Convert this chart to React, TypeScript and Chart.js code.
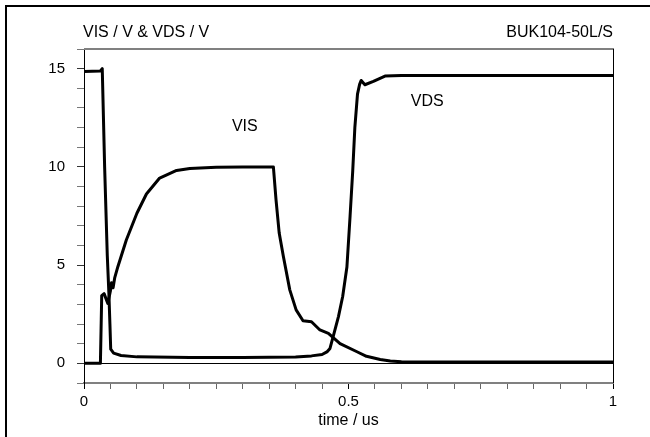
import React, { useEffect, useRef } from "react";
import { Chart, registerables } from "chart.js";

Chart.register(...registerables);

const visTime = [0, 0.031, 0.0335, 0.038, 0.045, 0.05, 0.052, 0.055, 0.058, 0.064, 0.08, 0.1, 0.118, 0.143, 0.175, 0.2, 0.25, 0.3, 0.358, 0.363, 0.369, 0.377, 0.389, 0.401, 0.414, 0.43, 0.446, 0.462, 0.484, 0.516, 0.534, 0.56, 0.579, 0.6, 1];
const visVolts = [0, 0, 3.45, 3.55, 3.05, 3.7, 4.1, 3.85, 4.35, 4.92, 6.28, 7.64, 8.62, 9.43, 9.82, 9.92, 9.98, 10.0, 10.0, 8.32, 6.63, 5.43, 3.74, 2.72, 2.17, 2.12, 1.7, 1.53, 1.0, 0.59, 0.36, 0.2, 0.12, 0.08, 0.07];

const vdsTime = [0, 0.031, 0.0345, 0.039, 0.044, 0.047, 0.049, 0.0505, 0.056, 0.07, 0.1, 0.2, 0.3, 0.4, 0.43, 0.45, 0.46, 0.465, 0.471, 0.481, 0.489, 0.497, 0.503, 0.508, 0.512, 0.517, 0.521, 0.524, 0.531, 0.547, 0.569, 0.6, 1];
const vdsVolts = [14.85, 14.88, 15.0, 10.0, 5.5, 3.6, 2.0, 0.72, 0.52, 0.4, 0.33, 0.3, 0.3, 0.32, 0.38, 0.45, 0.6, 0.76, 1.36, 2.38, 3.4, 4.9, 7.5, 9.8, 12.0, 13.7, 14.2, 14.4, 14.18, 14.35, 14.62, 14.65, 14.65];

const xLabels = [0, 0.5, 1];
const yLabels = [0, 5, 10, 15];

const yTitle = "VIS / V & VDS / V";
const deviceName = "BUK104-50L/S";
const xTitle = "time / us";
const visName = "VIS";
const vdsName = "VDS";

const FONT = "'Liberation Sans', Arial, sans-serif";

const near = (v: number, arr: number[]) => arr.some((a) => Math.abs(a - v) < 1e-6);

const decorPlugin = {
  id: "decor",
  afterDraw(chart: any) {
    const { ctx, chartArea } = chart;
    const xs = chart.scales.x;
    const ys = chart.scales.y;
    ctx.save();
    // outer frame (top & left)
    ctx.fillStyle = "#000";
    ctx.fillRect(5, 5, 645, 2);
    ctx.fillRect(5, 5, 2, 432);
    // top gray border
    ctx.fillStyle = "#808080";
    ctx.fillRect(chartArea.left, chartArea.top - 1, chartArea.right - chartArea.left + 1, 2);
    // right black border
    ctx.fillStyle = "#000";
    ctx.fillRect(chartArea.right, chartArea.top, 1, chartArea.bottom - chartArea.top);
    // texts
    ctx.font = `16px ${FONT}`;
    ctx.fillStyle = "#000";
    ctx.textBaseline = "middle";
    ctx.textAlign = "left";
    ctx.fillText(yTitle, chartArea.left - 1, 33);
    ctx.textAlign = "right";
    ctx.fillText(deviceName, chartArea.right, 33);
    ctx.textAlign = "center";
    ctx.fillText(visName, xs.getPixelForValue(0.304), ys.getPixelForValue(12.04));
    ctx.fillText(vdsName, xs.getPixelForValue(0.649), ys.getPixelForValue(13.3));
    ctx.restore();
  },
};

export default function App() {
  const ref = useRef<HTMLCanvasElement | null>(null);
  useEffect(() => {
    document.body.style.margin = "0";
    if (!ref.current) return;
    const visData = visTime.map((t, i) => ({ x: t, y: visVolts[i] }));
    const vdsData = vdsTime.map((t, i) => ({ x: t, y: vdsVolts[i] }));
    const chart = new Chart(ref.current, {
      type: "line",
      data: {
        datasets: [
          { label: visName, data: visData, borderColor: "#000", borderWidth: 3, pointRadius: 0, tension: 0, fill: false, borderJoinStyle: "round" as any },
          { label: vdsName, data: vdsData, borderColor: "#000", borderWidth: 3, pointRadius: 0, tension: 0, fill: false, borderJoinStyle: "round" as any },
        ],
      },
      options: {
        animation: false,
        responsive: true,
        maintainAspectRatio: false,
        layout: { padding: { left: 0, top: 49, right: 37, bottom: 0 } },
        plugins: { legend: { display: false }, tooltip: { enabled: false }, title: { display: false } },
        scales: {
          x: {
            type: "linear",
            min: 0,
            max: 1,
            afterBuildTicks(scale: any) {
              const t = [];
              for (let i = 0; i <= 20; i++) t.push({ value: i / 20 });
              scale.ticks = t;
            },
            afterFit(scale: any) {
              scale.height = 54;
            },
            ticks: {
              autoSkip: false,
              maxRotation: 0,
              padding: 4,
              color: "#000",
              font: { size: 15, family: FONT },
              callback: (v: any) => (near(Number(v), xLabels) ? String(Number(v)) : ""),
            },
            grid: {
              drawOnChartArea: false,
              drawTicks: true,
              tickLength: 6,
              tickColor: (c: any) => (near(c.tick?.value, xLabels) ? "#000" : "#666"),
              tickWidth: 1,
            },
            border: { display: true, color: "#808080", width: 2 },
            title: { display: true, text: xTitle, color: "#000", font: { size: 16, family: FONT }, padding: { top: 0, bottom: 7 } },
          },
          y: {
            type: "linear",
            min: -1,
            max: 16,
            afterBuildTicks(scale: any) {
              const t = [];
              for (let i = -1; i <= 16; i++) t.push({ value: i });
              scale.ticks = t;
            },
            afterFit(scale: any) {
              scale.width = 84;
            },
            ticks: {
              autoSkip: false,
              padding: 12,
              color: "#000",
              font: { size: 15, family: FONT },
              callback: (v: any) => (near(Number(v), yLabels) ? String(Number(v)) : ""),
            },
            grid: {
              drawOnChartArea: true,
              drawTicks: true,
              tickLength: 7,
              color: (c: any) => (c.tick && Math.abs(c.tick.value) < 1e-6 ? "#000" : "rgba(0,0,0,0)"),
              lineWidth: 1,
              tickColor: (c: any) => (near(c.tick?.value, yLabels) ? "#333" : "#777"),
              tickWidth: 1,
            },
            border: { display: true, color: "#000", width: 1 },
          },
        },
      },
      plugins: [decorPlugin],
    });
    return () => chart.destroy();
  }, []);
  return (
    <div style={{ position: "absolute", left: 0, top: 0, width: 650, height: 437, background: "#fff" }}>
      <canvas ref={ref} />
    </div>
  );
}
